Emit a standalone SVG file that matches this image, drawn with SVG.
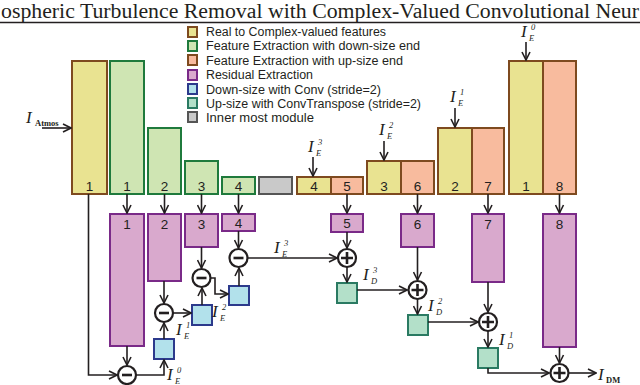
<svg xmlns="http://www.w3.org/2000/svg" width="640" height="385" viewBox="0 0 640 385">
<defs>
<style>
.ttl{font-family:"Liberation Serif","DejaVu Serif",serif;font-size:20px;fill:#231f20}
.lg{font-family:"Liberation Sans","Open Sans",sans-serif;font-size:12.5px;fill:#231f20}
.num{font-family:"Liberation Sans","Open Sans",sans-serif;font-size:13.5px;fill:#231f20;text-anchor:middle}
.mi{font-family:"Liberation Serif","DejaVu Serif",serif;font-style:italic;font-size:17px;fill:#231f20}
.ms{font-family:"Liberation Serif","DejaVu Serif",serif;font-style:italic;font-size:8.5px;fill:#231f20}
.mr{font-family:"Liberation Serif","DejaVu Serif",serif;font-size:8.5px;font-weight:bold;fill:#231f20}
.y{fill:#e9e391;stroke:#7e4a1f;stroke-width:2}
.g{fill:#cfe5b3;stroke:#1f7a3c;stroke-width:2}
.o{fill:#f8bb9e;stroke:#7e4a1f;stroke-width:2}
.p{fill:#d9a9cd;stroke:#7a2a88;stroke-width:2}
.b{fill:#b2e1eb;stroke:#2c3a8c;stroke-width:2}
.t{fill:#b3e0c9;stroke:#2a7a62;stroke-width:2}
.gr{fill:#c9c9c9;stroke:#555555;stroke-width:2}
.op{fill:#ffffff;stroke:#231f20;stroke-width:2.2}
.sg{stroke:#231f20;stroke-width:2.6;stroke-linecap:butt;fill:none}
.c{fill:none;stroke:#231f20;stroke-width:1.6;marker-end:url(#ah)}
</style>
<marker id="ah" viewBox="0 0 10 10" refX="9" refY="5" markerWidth="10" markerHeight="10" markerUnits="userSpaceOnUse" orient="auto">
<path d="M1,1 L9,5 L1,9" fill="none" stroke="#231f20" stroke-width="1.6"/>
</marker>
</defs>
<rect width="640" height="385" fill="#ffffff"/>

<g id="title">
<text class="ttl" x="1" y="18" textLength="638" lengthAdjust="spacingAndGlyphs">ospheric Turbulence Removal with Complex-Valued Convolutional Neur</text>
<line x1="0" y1="22.5" x2="640" y2="22.5" stroke="#231f20" stroke-width="1.5"/>
</g>

<g id="legend">
<rect class="y" x="188" y="27" width="9" height="10"/><text class="lg" x="206" y="36" textLength="180" lengthAdjust="spacingAndGlyphs">Real to Complex-valued features</text>
<rect class="g" x="188" y="41" width="9" height="10"/><text class="lg" x="206" y="50" textLength="214" lengthAdjust="spacingAndGlyphs">Feature Extraction with down-size end</text>
<rect class="o" x="188" y="55" width="9" height="10"/><text class="lg" x="206" y="64.5" textLength="197" lengthAdjust="spacingAndGlyphs">Feature Extraction with up-size end</text>
<rect class="p" x="188" y="70" width="9" height="10"/><text class="lg" x="206" y="79" textLength="107" lengthAdjust="spacingAndGlyphs">Residual Extraction</text>
<rect class="b" x="188" y="84" width="9" height="10"/><text class="lg" x="206" y="93.5" textLength="175" lengthAdjust="spacingAndGlyphs">Down-size with Conv (stride=2)</text>
<rect class="t" x="188" y="98" width="9" height="10"/><text class="lg" x="206" y="107.5" textLength="215" lengthAdjust="spacingAndGlyphs">Up-size with ConvTranspose (stride=2)</text>
<rect class="gr" x="188" y="112" width="9" height="10"/><text class="lg" x="206" y="122" textLength="108" lengthAdjust="spacingAndGlyphs">Inner most module</text>
</g>

<!-- top row -->
<g id="rc1"><rect class="y" x="72" y="61" width="35" height="133"/><text class="num" x="89.5" y="191">1</text></g>
<g id="fd1"><rect class="g" x="110" y="61" width="34" height="133"/><text class="num" x="127" y="191">1</text></g>
<g id="fd2"><rect class="g" x="148" y="128" width="33" height="66"/><text class="num" x="164.5" y="191">2</text></g>
<g id="fd3"><rect class="g" x="185" y="161" width="33" height="33"/><text class="num" x="201.5" y="191">3</text></g>
<g id="fd4"><rect class="g" x="222" y="177" width="33" height="17"/><text class="num" x="238.5" y="191">4</text></g>
<g id="inner"><rect class="gr" x="259" y="177" width="33" height="17"/></g>
<g id="rc4"><rect class="y" x="297" y="177" width="34" height="17"/><text class="num" x="314" y="191">4</text></g>
<g id="fu5"><rect class="o" x="331" y="177" width="32" height="17"/><text class="num" x="347" y="191">5</text></g>
<g id="rc3"><rect class="y" x="367" y="161" width="34" height="33"/><text class="num" x="384" y="191">3</text></g>
<g id="fu6"><rect class="o" x="401" y="161" width="33" height="33"/><text class="num" x="417.5" y="191">6</text></g>
<g id="rc2"><rect class="y" x="438" y="128" width="34" height="66"/><text class="num" x="455" y="191">2</text></g>
<g id="fu7"><rect class="o" x="472" y="128" width="32" height="66"/><text class="num" x="488" y="191">7</text></g>
<g id="rc1b"><rect class="y" x="509" y="61" width="34" height="133"/><text class="num" x="526" y="191">1</text></g>
<g id="fu8"><rect class="o" x="543" y="61" width="33" height="133"/><text class="num" x="559.5" y="191">8</text></g>

<!-- residual blocks -->
<g id="re1"><rect class="p" x="110" y="214" width="34" height="132"/><text class="num" x="127" y="229">1</text></g>
<g id="re2"><rect class="p" x="148" y="214" width="33" height="67"/><text class="num" x="164.5" y="229">2</text></g>
<g id="re3"><rect class="p" x="185" y="214" width="33" height="33"/><text class="num" x="201.5" y="229">3</text></g>
<g id="re4"><rect class="p" x="222" y="214" width="33" height="17"/><text class="num" x="238.5" y="228">4</text></g>
<g id="re5"><rect class="p" x="331" y="214" width="32" height="18"/><text class="num" x="347" y="228">5</text></g>
<g id="re6"><rect class="p" x="401" y="214" width="33" height="33"/><text class="num" x="417.5" y="229">6</text></g>
<g id="re7"><rect class="p" x="472" y="214" width="32" height="68"/><text class="num" x="488" y="229">7</text></g>
<g id="re8"><rect class="p" x="543" y="214" width="33" height="133"/><text class="num" x="559.5" y="229">8</text></g>

<!-- down-size and up-size squares -->
<g id="ds1"><rect class="b" x="154" y="339" width="20" height="20"/></g>
<g id="ds2"><rect class="b" x="192" y="305" width="20" height="20"/></g>
<g id="ds3"><rect class="b" x="229" y="286" width="20" height="19"/></g>
<g id="us3"><rect class="t" x="337" y="283" width="20" height="20"/></g>
<g id="us2"><rect class="t" x="408" y="315" width="20" height="20"/></g>
<g id="us1"><rect class="t" x="478" y="348" width="20" height="20"/></g>

<!-- operators -->
<g id="sub0"><circle class="op" cx="127" cy="375" r="9"/><line class="sg" x1="122" y1="375" x2="132" y2="375"/></g>
<g id="sub1"><circle class="op" cx="164" cy="313" r="9"/><line class="sg" x1="159" y1="313" x2="169" y2="313"/></g>
<g id="sub2"><circle class="op" cx="201.5" cy="278" r="9"/><line class="sg" x1="196.5" y1="278" x2="206.5" y2="278"/></g>
<g id="sub3"><circle class="op" cx="238.5" cy="258" r="9"/><line class="sg" x1="233.5" y1="258" x2="243.5" y2="258"/></g>
<g id="add3"><circle class="op" cx="347" cy="258" r="9"/><path class="sg" d="M341,258 H353 M347,252 V264"/></g>
<g id="add2"><circle class="op" cx="417.5" cy="290" r="9"/><path class="sg" d="M411.5,290 H423.5 M417.5,284 V296"/></g>
<g id="add1"><circle class="op" cx="488" cy="322" r="9"/><path class="sg" d="M482,322 H494 M488,316 V328"/></g>
<g id="add0"><circle class="op" cx="559.5" cy="373" r="9"/><path class="sg" d="M553.5,373 H565.5 M559.5,367 V379"/></g>

<g id="connectors">
<path class="c" d="M42,128 H71"/>
<path class="c" d="M313,157 V176"/>
<path class="c" d="M384,141 V160"/>
<path class="c" d="M455,108 V127"/>
<path class="c" d="M526,42 V60"/>
<path class="c" d="M127,194 V213"/>
<path class="c" d="M164.5,194 V213"/>
<path class="c" d="M201.5,194 V213"/>
<path class="c" d="M238.5,194 V213"/>
<path class="c" d="M347,194 V213"/>
<path class="c" d="M417.5,194 V213"/>
<path class="c" d="M488,194 V213"/>
<path class="c" d="M559.5,194 V213"/>
<path class="c" d="M127,346 V365"/>
<path class="c" d="M164,281 V303"/>
<path class="c" d="M201.5,247 V268"/>
<path class="c" d="M238.5,231 V248"/>
<path class="c" d="M347,232 V248"/>
<path class="c" d="M417.5,247 V280"/>
<path class="c" d="M488,282 V312"/>
<path class="c" d="M559.5,347 V363"/>
<path class="c" d="M88.5,194 V375 H117"/>
<path class="c" d="M136,375 H164 V360"/>
<path class="c" d="M164,339 V323"/>
<path class="c" d="M173,313 H191"/>
<path class="c" d="M202,305 V288"/>
<path class="c" d="M210.5,278 H215 V294 H228"/>
<path class="c" d="M239,286 V268"/>
<path class="c" d="M247.5,258 H337"/>
<path class="c" d="M347,267 V282"/>
<path class="c" d="M357,290 H407"/>
<path class="c" d="M417.5,299 V314"/>
<path class="c" d="M428,322 H478"/>
<path class="c" d="M488,331 V347"/>
<path class="c" d="M488,368 V373 H549"/>
<path class="c" d="M568.5,373 H596"/>
</g>

<g id="labels">
<text class="mi" x="26" y="123">I</text><text class="mr" x="35" y="126">Atmos</text>
<text class="mi" x="308" y="152">I</text><text class="ms" x="316" y="156">E</text><text class="ms" x="318" y="145">3</text>
<text class="mi" x="379" y="135">I</text><text class="ms" x="387" y="139">E</text><text class="ms" x="389" y="128">2</text>
<text class="mi" x="450" y="102">I</text><text class="ms" x="458" y="106">E</text><text class="ms" x="460" y="95">1</text>
<text class="mi" x="521" y="37">I</text><text class="ms" x="529" y="41">E</text><text class="ms" x="531" y="30">0</text>
<text class="mi" x="274" y="253">I</text><text class="ms" x="282" y="257">E</text><text class="ms" x="284" y="246">3</text>
<text class="mi" x="212" y="317">I</text><text class="ms" x="220" y="321">E</text><text class="ms" x="222" y="310">2</text>
<text class="mi" x="176" y="335">I</text><text class="ms" x="184" y="339">E</text><text class="ms" x="186" y="328">1</text>
<text class="mi" x="167" y="380">I</text><text class="ms" x="175" y="384">E</text><text class="ms" x="177" y="373">0</text>
<text class="mi" x="363" y="280">I</text><text class="ms" x="371" y="284">D</text><text class="ms" x="373" y="273">3</text>
<text class="mi" x="428" y="311">I</text><text class="ms" x="436" y="315">D</text><text class="ms" x="438" y="304">2</text>
<text class="mi" x="499" y="345">I</text><text class="ms" x="507" y="349">D</text><text class="ms" x="509" y="338">1</text>
<text class="mi" x="598" y="380">I</text><text class="mr" x="606" y="383">DM</text>
</g>
</svg>
